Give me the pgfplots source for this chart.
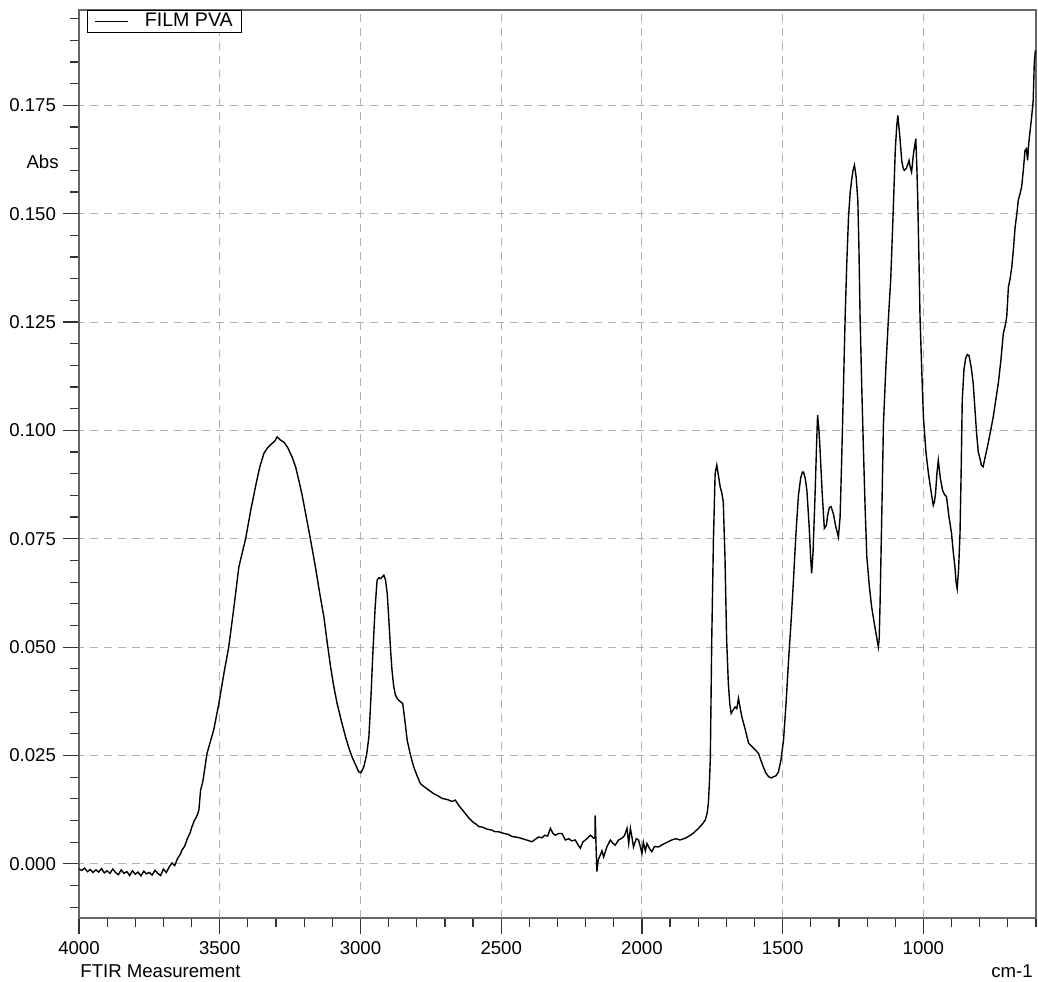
\documentclass[border=0pt]{standalone}
\usepackage{pgfplots}
\pgfplotsset{compat=1.18}
\usepackage{fontspec}
\setmainfont{Liberation Sans}
\newcommand{\fs}{\fontsize{9.3}{11}\selectfont}
\begin{document}
\begin{tikzpicture}
\begin{axis}[
  name=ax,
  scale only axis,
  width=478.5pt, height=454pt,
  x dir=reverse,
  xmin=600, xmax=4000,
  ymin=-0.0125, ymax=0.197,
  xtick={1000,1500,2000,2500,3000,3500,4000},
  minor xtick={600,700,800,900,1100,1200,1300,1400,1600,1700,1800,1900,2100,2200,2300,2400,2600,2700,2800,2900,3100,3200,3300,3400,3600,3700,3800,3900},
  ytick={0,0.025,0.05,0.075,0.1,0.125,0.15,0.175},
  minor ytick={-0.010,-0.005,0.005,0.010,0.015,0.020,0.030,0.035,0.040,0.045,0.055,0.060,0.065,0.070,0.080,0.085,0.090,0.095,0.105,0.110,0.115,0.120,0.130,0.135,0.140,0.145,0.155,0.160,0.165,0.170,0.180,0.185,0.190,0.195},
  scaled y ticks=false,
  tick pos=left,
  tick align=outside,
  major tick length=8pt,
  minor tick length=4.5pt,
  tick style={black!80, line width=0.6pt},
  axis line style={black!60, line width=0.7pt},
  grid=major,
  grid style={gray!60, line width=0.5pt, dash pattern=on 4pt off 3pt},
  tick label style={font=\fs},
  /pgf/number format/assume math mode=true,
  xticklabel style={/pgf/number format/.cd, 1000 sep={}},
  yticklabel style={/pgf/number format/.cd, fixed, fixed zerofill, precision=3},
  legend style={at={(0,1)}, anchor=north west, xshift=4pt, draw=black, line width=0.5pt, font=\fontsize{9.8}{11}\selectfont, inner xsep=3.5pt, inner ysep=0.3pt, row sep=0pt, nodes={inner xsep=0pt, inner ysep=1pt}},
  legend image code/.code={\draw[#1] (0pt,0pt) -- (16.5pt,0pt);},
  legend cell align=left,
  clip=false,
]
\addplot[black, line width=0.7pt] coordinates {
(4000,-0.0012)(3990,-0.0015)(3980,-0.0010)(3970,-0.0018)(3960,-0.0013)(3950,-0.0020)(3940,-0.0014)(3930,-0.0019)(3920,-0.0011)(3910,-0.0021)
(3900,-0.0016)(3890,-0.0022)(3880,-0.0012)(3870,-0.0020)(3860,-0.0025)(3850,-0.0014)(3840,-0.0022)(3830,-0.0018)(3820,-0.0027)(3810,-0.0016)
(3800,-0.0024)(3790,-0.0019)(3780,-0.0028)(3770,-0.0017)(3760,-0.0023)(3750,-0.0020)(3740,-0.0026)(3730,-0.0015)(3720,-0.0022)(3710,-0.0027)
(3700,-0.0012)(3690,-0.0020)(3680,-0.0008)(3670,0.0002)(3660,-0.0004)(3650,0.0012)(3640,0.0022)(3634,0.0032)(3625,0.0040)(3615,0.0058)
(3605,0.0072)(3599,0.0085)(3590,0.0100)(3580,0.0112)(3574,0.0124)(3568,0.0170)(3560,0.0190)(3545,0.0255)(3521,0.0310)(3503,0.0370)
(3485,0.0440)(3468,0.0500)(3450,0.0590)(3432,0.0685)(3408,0.0750)(3390,0.0815)(3373,0.0870)(3358,0.0915)(3343,0.0947)(3330,0.0960)
(3314,0.0970)(3305,0.0975)(3296,0.0985)(3285,0.0978)(3272,0.0973)(3258,0.0960)(3243,0.0939)(3230,0.0915)(3219,0.0885)(3207,0.0850)
(3195,0.0809)(3178,0.0750)(3160,0.0685)(3145,0.0625)(3130,0.0570)(3118,0.0510)(3106,0.0454)(3095,0.0410)(3083,0.0370)(3068,0.0330)
(3053,0.0293)(3040,0.0265)(3030,0.0247)(3015,0.0225)(3006,0.0212)(2998,0.0210)(2988,0.0224)(2978,0.0252)(2970,0.0293)(2963,0.0380)
(2956,0.0486)(2948,0.0590)(2941,0.0654)(2935,0.0660)(2928,0.0658)(2923,0.0662)(2917,0.0666)(2911,0.0655)(2905,0.0624)(2899,0.0562)
(2893,0.0493)(2888,0.0447)(2882,0.0410)(2876,0.0390)(2868,0.0380)(2858,0.0374)(2850,0.0370)(2842,0.0330)(2834,0.0285)(2822,0.0250)
(2811,0.0224)(2800,0.0205)(2787,0.0185)(2772,0.0177)(2757,0.0170)(2740,0.0162)(2725,0.0157)(2710,0.0151)(2690,0.0148)(2675,0.0144)
(2663,0.0147)(2651,0.0135)(2635,0.0122)(2615,0.0106)(2600,0.0096)(2590,0.0092)(2580,0.0086)(2568,0.0085)(2550,0.0080)(2535,0.0078)
(2521,0.0074)(2509,0.0074)(2490,0.0070)(2475,0.0068)(2462,0.0063)(2450,0.0062)(2435,0.0060)(2420,0.0057)(2405,0.0054)(2391,0.0051)
(2380,0.0056)(2367,0.0062)(2355,0.0060)(2345,0.0066)(2335,0.0064)(2325,0.0082)(2316,0.0070)(2308,0.0066)(2296,0.0070)(2284,0.0070)
(2276,0.0060)(2272,0.0055)(2260,0.0058)(2250,0.0053)(2237,0.0055)(2228,0.0045)(2219,0.0036)(2210,0.0050)(2201,0.0055)(2192,0.0060)
(2183,0.0066)(2176,0.0062)(2172,0.0059)(2167,0.0060)(2166,0.0112)(2163,0.0040)(2160,-0.0018)(2155,0.0010)(2148,0.0020)(2142,0.0030)
(2136,0.0016)(2124,0.0040)(2112,0.0055)(2104,0.0048)(2095,0.0043)(2083,0.0055)(2071,0.0059)(2062,0.0065)(2053,0.0082)(2047,0.0047)
(2041,0.0082)(2035,0.0060)(2030,0.0039)(2020,0.0058)(2012,0.0055)(2006,0.0040)(2000,0.0024)(1995,0.0050)(1988,0.0030)(1982,0.0047)
(1973,0.0035)(1965,0.0028)(1955,0.0040)(1941,0.0039)(1925,0.0045)(1910,0.0050)(1894,0.0055)(1880,0.0058)(1865,0.0055)(1846,0.0059)
(1830,0.0065)(1815,0.0072)(1799,0.0082)(1785,0.0092)(1775,0.0101)(1768,0.0118)(1764,0.0140)(1760,0.0190)(1757,0.0245)(1752,0.0516)
(1746,0.0747)(1740,0.0900)(1734,0.0920)(1728,0.0895)(1722,0.0870)(1716,0.0855)(1711,0.0835)(1705,0.0708)(1699,0.0516)(1693,0.0416)
(1688,0.0370)(1683,0.0347)(1676,0.0355)(1669,0.0362)(1663,0.0358)(1657,0.0382)(1651,0.0360)(1645,0.0339)(1633,0.0310)(1621,0.0278)
(1605,0.0268)(1586,0.0255)(1578,0.0240)(1569,0.0224)(1560,0.0210)(1550,0.0201)(1540,0.0198)(1533,0.0201)(1524,0.0203)(1515,0.0212)
(1506,0.0240)(1497,0.0285)(1488,0.0370)(1479,0.0470)(1470,0.0560)(1462,0.0650)(1453,0.0760)(1444,0.0850)(1436,0.0890)(1430,0.0904)
(1426,0.0904)(1420,0.0890)(1414,0.0862)(1406,0.0780)(1400,0.0700)(1397,0.0670)(1392,0.0720)(1385,0.0850)(1379,0.0977)(1376,0.1035)
(1371,0.1000)(1367,0.0954)(1360,0.0860)(1352,0.0774)(1345,0.0780)(1340,0.0805)(1334,0.0822)(1328,0.0824)(1320,0.0808)(1312,0.0780)
(1302,0.0754)(1296,0.0800)(1291,0.0916)(1284,0.1100)(1278,0.1262)(1272,0.1390)(1266,0.1493)(1260,0.1550)(1255,0.1577)(1250,0.1600)
(1245,0.1612)(1239,0.1585)(1233,0.1531)(1229,0.1420)(1225,0.1262)(1219,0.1100)(1213,0.0954)(1207,0.0820)(1201,0.0708)(1192,0.0640)
(1184,0.0593)(1172,0.0545)(1160,0.0500)(1157,0.0520)(1154,0.0600)(1148,0.0800)(1142,0.1015)(1133,0.1150)(1124,0.1262)(1116,0.1350)
(1107,0.1510)(1100,0.1646)(1095,0.1700)(1091,0.1727)(1084,0.1680)(1077,0.1623)(1072,0.1605)(1068,0.1600)(1060,0.1605)(1051,0.1623)
(1046,0.1605)(1042,0.1596)(1035,0.1640)(1027,0.1673)(1023,0.1600)(1020,0.1531)(1016,0.1400)(1012,0.1262)(1006,0.1140)(1000,0.1031)
(991,0.0950)(982,0.0900)(973,0.0860)(965,0.0827)(961,0.0835)(957,0.0854)(952,0.0900)(947,0.0931)(940,0.0890)(932,0.0862)
(925,0.0852)(918,0.0847)(909,0.0800)(900,0.0762)(894,0.0720)(888,0.0685)(884,0.0650)(880,0.0635)(875,0.0680)(870,0.0762)
(866,0.0900)(862,0.1070)(856,0.1140)(850,0.1166)(844,0.1175)(838,0.1173)(830,0.1145)(823,0.1108)(817,0.1050)(811,0.0993)
(805,0.0950)(799,0.0935)(794,0.0920)(788,0.0916)(780,0.0940)(770,0.0970)(761,0.1000)(752,0.1031)(743,0.1070)(734,0.1108)
(725,0.1160)(716,0.1224)(710,0.1240)(704,0.1262)(698,0.1331)(692,0.1350)(686,0.1377)(680,0.1420)(674,0.1470)(668,0.1500)
(663,0.1531)(657,0.1545)(651,0.1562)(645,0.1600)(639,0.1646)(634,0.1650)(630,0.1623)(626,0.1660)(622,0.1685)(616,0.1720)
(610,0.1760)(606,0.1850)(602,0.1877)
};
\addlegendentry{\hspace*{8pt}FILM PVA\hspace*{1pt}}
\node[anchor=east, font=\fs, inner sep=0pt, xshift=-10pt] at (axis cs:4000,0.162) {Abs};
\node[anchor=west, font=\fs, inner sep=0pt, yshift=-26.5pt, xshift=0.5pt] at (rel axis cs:0,0) {FTIR Measurement};
\node[anchor=east, font=\fs, inner sep=0pt, yshift=-26.5pt, xshift=-1.5pt] at (rel axis cs:1,0) {cm-1};
\end{axis}
\pgfresetboundingbox
\path[use as bounding box] ([xshift=-39.5pt,yshift=-31.5pt]ax.south west) rectangle ([xshift=1pt,yshift=5pt]ax.north east);
\end{tikzpicture}
\end{document}
